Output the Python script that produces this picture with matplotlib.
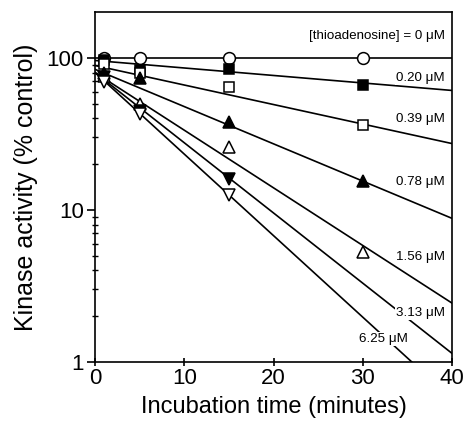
import numpy as np
import matplotlib
matplotlib.use("Agg")
import matplotlib.pyplot as plt
from matplotlib.ticker import FixedLocator, NullFormatter, FixedFormatter

plt.rcParams['font.family'] = ['Liberation Sans', 'DejaVu Sans']

# measured activity (% control) at each incubation time
concs = ["0", "0.20", "0.39", "0.78", "1.56", "3.13", "6.25"]
times = [[1, 5, 15, 30],
         [1, 5, 15, 30],
         [1, 5, 15, 30],
         [1, 5, 15, 30],
         [1, 5, 15, 30],
         [1, 5, 15],
         [1, 5, 15]]
activity = [[100, 100, 100, 100],
            [97, 83, 85, 66.5],
            [91, 80, 64, 36],
            [80, 74, 38, 15.6],
            [76, 50, 26, 5.3],
            [75, 45, 16],
            [69, 43, 12.6]]

# fitted lines, value at t=0 and t=40 min
fit_t = [0, 40]
fit_start = [100, 96, 89, 84, 80, 80, 80]
fit_end = [100, 61, 27.3, 8.8, 2.44, 1.14, 0.574]

markers = ['o', 's', 's', '^', '^', 'v', 'v']
filled = [False, True, False, True, False, True, False]
msizes = [8.5, 7, 7, 8, 8, 8, 8]

# label positions (time, value)
label_text = ["[thioadenosine] = 0 \u03bcM", "0.20 \u03bcM", "0.39 \u03bcM", "0.78 \u03bcM",
              "1.56 \u03bcM", "3.13 \u03bcM", "6.25 \u03bcM"]
label_x = [39.2, 39.2, 39.2, 39.2, 39.2, 39.2, 32.3]
label_y = [139, 74, 39.8, 15.2, 4.9, 2.1, 1.42]

fig = plt.figure(figsize=(4.67, 4.21), dpi=100)
ax = fig.add_axes([0.2034, 0.140, 0.7646, 0.8315])

for i in range(len(concs)):
    ax.plot(fit_t, [fit_start[i], fit_end[i]], color='black', lw=1.2, zorder=2)
    ax.plot(times[i], activity[i], linestyle='none', marker=markers[i],
            markersize=msizes[i], markeredgecolor='black', markeredgewidth=1.1,
            markerfacecolor='black' if filled[i] else 'white', zorder=4)

for i in range(len(concs)):
    ha = 'center' if i == 6 else 'right'
    ax.text(label_x[i], label_y[i], label_text[i], fontsize=9.6, ha=ha, va='center',
            zorder=5, bbox=dict(facecolor='white', edgecolor='none', pad=1.0))

ax.set_yscale('log')
ax.set_xlim(0, 40)
ax.set_ylim(1, 200)
ax.set_xticks([0, 10, 20, 30, 40])
ax.yaxis.set_major_locator(FixedLocator([1, 10, 100]))
ax.yaxis.set_major_formatter(FixedFormatter(['1', '10', '100']))
minor = [v * d for d in [1, 10, 100] for v in range(2, 10) if v * d < 200]
ax.yaxis.set_minor_locator(FixedLocator(minor))
ax.yaxis.set_minor_formatter(NullFormatter())

ax.tick_params(axis='y', which='major', direction='out', length=6, width=1.2, labelsize=16, pad=2)
ax.tick_params(axis='y', which='minor', direction='inout', length=4, width=1.0)
ax.tick_params(axis='x', which='major', direction='inout', length=6, width=1.2, labelsize=16, pad=1)
for s in ax.spines.values():
    s.set_linewidth(1.2)

ax.set_xlabel("Incubation time (minutes)", fontsize=17, labelpad=5)
ax.set_ylabel("Kinase activity (% control)", fontsize=18, labelpad=6)

fig.savefig("out.png", dpi=100)
